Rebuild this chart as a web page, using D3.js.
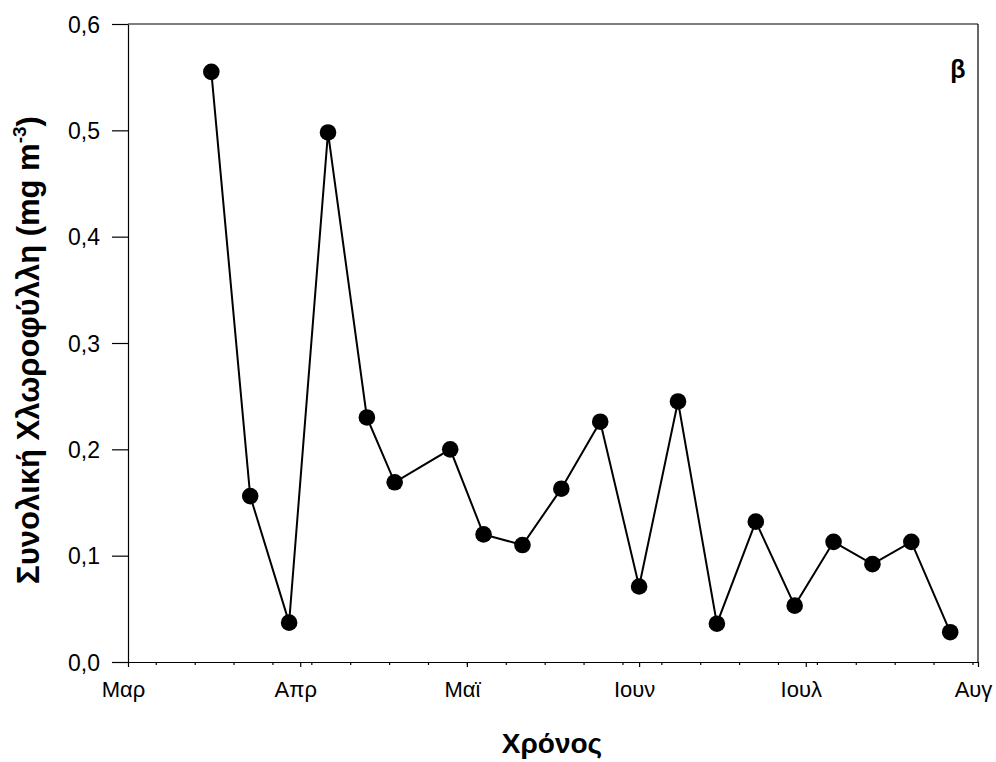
<!DOCTYPE html>
<html>
<head>
<meta charset="utf-8">
<script src="https://cdn.jsdelivr.net/npm/d3@7"></script>
<style>
  html, body { margin: 0; padding: 0; background: #fff; }
  svg { display: block; font-family: "Liberation Sans", Arial, sans-serif; }
</style>
</head>
<body>
<svg id="chart" width="996" height="762"></svg>
<script>
// ---- data ----
const sampleDates = ["2005-03-16","2005-03-23","2005-03-30","2005-04-06","2005-04-13","2005-04-18",
  "2005-04-28","2005-05-04","2005-05-11","2005-05-18","2005-05-25","2005-06-01","2005-06-08",
  "2005-06-15","2005-06-22","2005-06-29","2005-07-06","2005-07-13","2005-07-20","2005-07-27"];
const chlValues = [0.555,0.156,0.037,0.498,0.230,0.169,0.200,0.120,0.110,0.163,0.226,0.071,0.245,
  0.036,0.132,0.053,0.113,0.092,0.113,0.028];
const monthLabels = ["Μαρ","Απρ","Μαϊ","Ιουν","Ιουλ","Αυγ"];
const yTicks = [0,0.1,0.2,0.3,0.4,0.5,0.6];
const yTickLabels = ["0,0","0,1","0,2","0,3","0,4","0,5","0,6"];
const xTitle = "Χρόνος";
const yTitle = "Συνολική Χλωροφύλλη (mg m";
const panelLabel = "β";

// ---- layout ----
const pLeft = 128, pRight = 978, pTop = 24, pBottom = 662;
const parse = d3.timeParse("%Y-%m-%d");
const data = sampleDates.map((d, i) => ({ date: parse(d), value: chlValues[i] }));

const x = d3.scaleTime()
  .domain([new Date(2005, 2, 1), new Date(2005, 7, 1)])
  .range([pLeft, pRight]);
const y = d3.scaleLinear().domain([0, 0.6]).range([pBottom, pTop]);

const svg = d3.select("#chart");

// frame (top and right)
svg.append("line").attr("x1", pLeft).attr("x2", pRight).attr("y1", pTop).attr("y2", pTop)
  .attr("stroke", "#000").attr("stroke-width", 1.2);
svg.append("line").attr("x1", pRight).attr("x2", pRight).attr("y1", pTop).attr("y2", pBottom)
  .attr("stroke", "#000").attr("stroke-width", 1.2);

// minor x ticks (weekly)
const minorTicks = d3.timeWeek.range(x.domain()[0], x.domain()[1]);
const xMinor = svg.append("g").attr("transform", `translate(0,${pBottom})`)
  .call(d3.axisBottom(x).tickValues(minorTicks).tickSize(3).tickFormat(""));
xMinor.select(".domain").remove();
xMinor.selectAll("line").attr("stroke-width", 1.2);

// major x axis (months)
const monthTicks = d3.timeMonth.range(x.domain()[0], d3.timeDay.offset(x.domain()[1], 1));
const xAxis = svg.append("g").attr("transform", `translate(0,${pBottom})`)
  .call(d3.axisBottom(x).tickValues(monthTicks).tickSize(5).tickSizeOuter(0)
    .tickFormat((d, i) => monthLabels[i]));
xAxis.select(".domain").attr("stroke-width", 1.2);
xAxis.selectAll("line").attr("stroke-width", 1.2);
xAxis.selectAll("text")
  .attr("y", 35).attr("dy", 0).attr("dx", -5)
  .attr("font-size", 22).attr("fill", "#000")
  .attr("font-family", "Liberation Sans, Arial, sans-serif");

// y axis
const yAxis = svg.append("g").attr("transform", `translate(${pLeft},0)`)
  .call(d3.axisLeft(y).tickValues(yTicks).tickSize(16).tickSizeOuter(0).tickPadding(12)
    .tickFormat((d, i) => yTickLabels[i]));
yAxis.select(".domain").attr("stroke-width", 1.2);
yAxis.selectAll("line").attr("stroke-width", 1.2);
yAxis.selectAll("text")
  .attr("font-size", 23).attr("fill", "#000")
  .attr("dy", "0.36em")
  .attr("font-family", "Liberation Sans, Arial, sans-serif");

// line
const line = d3.line().x(d => x(d.date)).y(d => y(d.value));
svg.append("path").datum(data).attr("d", line)
  .attr("fill", "none").attr("stroke", "#000").attr("stroke-width", 2);

// markers
svg.append("g").selectAll("circle").data(data).join("circle")
  .attr("cx", d => x(d.date)).attr("cy", d => y(d.value)).attr("r", 8.3)
  .attr("fill", "#000");

// titles
svg.append("text").attr("x", 552).attr("y", 753).attr("text-anchor", "middle")
  .attr("font-size", 28).attr("font-weight", "bold").attr("fill", "#000").text(xTitle);

const yt = svg.append("text").attr("transform", "translate(39,350) rotate(-90)")
  .attr("text-anchor", "middle").attr("font-size", 31).attr("font-weight", "bold").attr("fill", "#000");
yt.append("tspan").text(yTitle);
yt.append("tspan").attr("font-size", 19).attr("dy", -13).text("-3");
yt.append("tspan").attr("dy", 13).text(")");

svg.append("text").attr("x", 958).attr("y", 78).attr("text-anchor", "middle")
  .attr("font-size", 25).attr("font-weight", "bold").attr("fill", "#000").text(panelLabel);
</script>
</body>
</html>
